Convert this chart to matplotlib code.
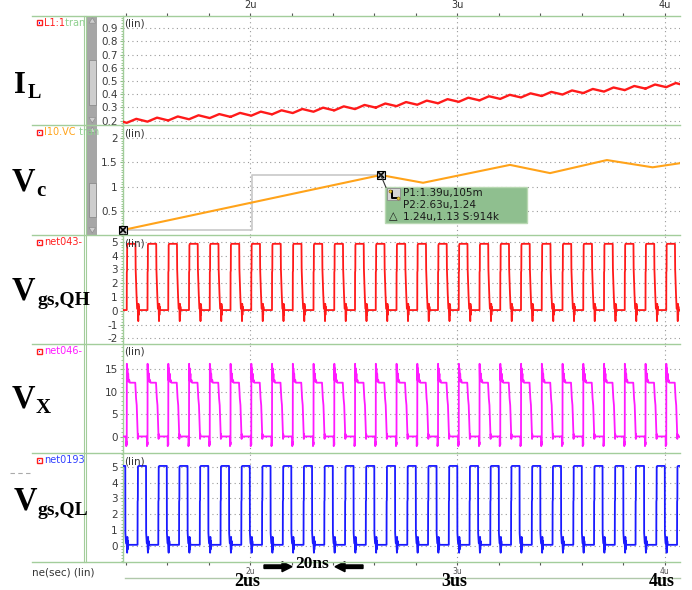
import numpy as np
import matplotlib.pyplot as plt
from matplotlib.patches import Rectangle, Polygon, FancyArrow, ConnectionPatch
from matplotlib.ticker import MultipleLocator, FixedLocator

W, H = 692, 590

# time window in us
t_start, t_stop = 1.3865, 4.0723
period = 0.1
first_rise = 1.406

# inductor current: slow trend (A) and switching ripple within one period
il_knot_t = [1.39, 2.0, 2.5, 3.0, 3.5, 4.08]
il_knot_v = [0.195, 0.25, 0.30, 0.355, 0.41, 0.475]
il_rip_off = [0.0, 0.046, 0.1]
il_rip_val = [-0.013, 0.013, -0.013]

# control voltage corners; first two are the cursor points
vc_t = [1.39, 2.63, 2.834, 3.253, 3.446, 3.72, 3.94, 4.08]
vc_v = [0.105, 1.24, 1.08, 1.45, 1.28, 1.55, 1.40, 1.49]

# one switching period, offsets (us) from high-side turn-on
qh_off = [0.0, 0.0004, 0.0015, 0.002, 0.004, 0.042, 0.043, 0.047, 0.050, 0.054,
          0.0555, 0.0565, 0.0575, 0.0585, 0.060, 0.064, 0.0995]
qh_val = [0.05, 2.8, 2.9, 4.75, 4.85, 4.85, 3.0, 1.2, 0.15, 0.1,
          -0.75, 0.5, -0.3, 0.3, 0.05, 0.05, 0.05]

vx_off = [0.0, 0.0005, 0.002, 0.003, 0.005, 0.007, 0.009, 0.012, 0.015, 0.041, 0.045,
          0.048, 0.051, 0.053, 0.0535, 0.054, 0.056, 0.097, 0.0975, 0.0995]
vx_val = [-1.8, 16.2, 12.5, 15.2, 12.8, 14.0, 12.2, 12.6, 12.0, 12.0, 8.5,
          7.0, 2.5, 0.3, -0.5, 0.6, 0.05, 0.05, -2.1, -1.2]

ql_off = [0.0, 0.002, 0.003, 0.004, 0.005, 0.007, 0.052, 0.0525, 0.0535, 0.054,
          0.057, 0.093, 0.0935, 0.0965, 0.0995]
ql_val = [0.1, -0.45, 0.55, -0.25, 0.3, 0.05, 0.05, 2.8, 2.9, 5.0,
          5.05, 5.05, 0.8, 0.15, 0.1]

y_limits = [(0.167, 0.995), (0.0, 2.275), (-2.41, 5.49), (-3.63, 20.6), (-1.02, 5.87)]
y_ticks = [[0.2, 0.3, 0.4, 0.5, 0.6, 0.7, 0.8, 0.9], [0.5, 1, 1.5, 2],
           [-2, -1, 0, 1, 2, 3, 4, 5], [0, 5, 10, 15], [0, 1, 2, 3, 4, 5]]
y_minor = [0.02, 0.05, 0.2, 1, 0.2]
time_labels = ["2u", "3u", "4u"]

GREEN = "#a3cd9b"
GRID = "#9a9a9a"


def tile(off, val):
    ts, vs = [], []
    for k in range(-1, 28):
        ts.append(first_rise + k * period + np.array(off))
        vs.append(np.array(val))
    return np.concatenate(ts), np.concatenate(vs)


def px_box(x0, y0, x1, y1):
    return [x0 / W, 1 - y1 / H, (x1 - x0) / W, (y1 - y0) / H]


t_il, rip = tile(il_rip_off, il_rip_val)
il = np.interp(t_il, il_knot_t, il_knot_v) + rip
t_qh, qh = tile(qh_off, qh_val)
t_vx, vx = tile(vx_off, vx_val)
t_ql, ql = tile(ql_off, ql_val)

fig = plt.figure(figsize=(W / 100, H / 100), dpi=100)

tops = [15.7, 125, 235, 344, 453]
bots = [125, 235, 344, 453, 561.7]
series = [(t_il, il, "#ff1a1a", 1.7), (vc_t, vc_v, "#ffa31a", 1.5),
          (t_qh, qh, "#ff1a1a", 1.3), (t_vx, vx, "#ff1aff", 1.3),
          (t_ql, ql, "#1a1aff", 1.3)]
axes = []
for i in range(5):
    ax = fig.add_axes(px_box(122.7, tops[i], 680, bots[i]))
    x, y, c, lw = series[i]
    ax.plot(x, y, color=c, lw=lw, zorder=3)
    ax.set_xlim(t_start, t_stop)
    ax.set_ylim(*y_limits[i])
    ax.set_yticks(y_ticks[i])
    ax.set_yticklabels(["%.1f" % v if i == 0 else "%g" % v for v in y_ticks[i]])
    ax.yaxis.set_minor_locator(MultipleLocator(y_minor[i]))
    ax.tick_params(axis="y", which="major", length=2.5, width=0.8, color="#8dbf85",
                   pad=1, labelsize=7.5, labelcolor="#3a3a3a")
    ax.tick_params(axis="y", which="minor", length=1.6, width=0.6, color="#8dbf85")
    ax.set_xticks([2, 3, 4])
    ax.xaxis.set_minor_locator(FixedLocator(np.arange(1.4, 4.01, 0.2)))
    ax.tick_params(axis="x", which="both", bottom=False, labelbottom=False)
    ax.grid(True, axis="both", which="major", color=GRID, lw=0.8, ls=(0, (1, 3)))
    for s in ["top", "right", "bottom"]:
        ax.spines[s].set_visible(False)
    ax.spines["left"].set_color(GREEN)
    ax.spines["left"].set_linewidth(1)
    axes.append(ax)

# time axis above the first panel
ax1 = axes[0]
ax1.tick_params(axis="x", which="both", top=True, labeltop=True, direction="out",
                length=2, width=0.8, color="#555555", pad=2, labelsize=7,
                labelcolor="#333333")
ax1.set_xticklabels(time_labels)

# time axis below the last panel
ax5 = axes[4]
ax5.tick_params(axis="x", which="both", bottom=True, labelbottom=True, direction="out",
                length=2.4, width=0.8, color="#555555", pad=1.5, labelsize=5.5,
                labelcolor="#555555")
ax5.set_xticklabels(time_labels)

# cursor points on the control voltage
ax2 = axes[1]
p1 = (vc_t[0], vc_v[0])
p2 = (vc_t[1], vc_v[1])
mid = (p1[0] + p2[0]) / 2
ax2.plot([p1[0], mid, mid, p2[0]], [p1[1], p1[1], p2[1], p2[1]],
         color="#c8c8c8", lw=1.2, zorder=2)
for p in (p1, p2):
    ax2.plot(*p, marker="s", ms=6, mfc="#d0d0d0", mec="black", mew=0.8, zorder=5,
             clip_on=False)
    ax2.plot(*p, marker="x", ms=5, mec="black", mew=1.2, zorder=6, clip_on=False)

ov = fig.add_axes([0, 0, 1, 1])
ov.set_xlim(0, W)
ov.set_ylim(H, 0)
ov.axis("off")
ov.set_zorder(5)

# frame lines
for y in tops + [bots[-1]]:
    ov.plot([32, 680], [y, y], color=GREEN, lw=1)
ov.plot([125, 680], [578, 578], color="#b0c8aa", lw=1)
for x in (84.3, 86.3):
    ov.plot([x, x], [15.7, 561.7], color=GREEN, lw=0.8)

# scroll bars on the first two panels
for top, bot, th0, th1 in [(15.7, 125, 60, 105), (125, 235, 183, 217)]:
    ov.add_patch(Rectangle((87.3, top), 10, bot - top, fc="#a6a6a6", ec="none"))
    ov.add_patch(Rectangle((88.5, th0), 7.6, th1 - th0, fc="#cdcdcd", ec="#8c8c8c", lw=0.6))
    ov.add_patch(Polygon([(89, top + 7.5), (95.6, top + 7.5), (92.3, top + 2)],
                         fc="#cfcfcf", ec="#909090", lw=0.5))
    ov.add_patch(Polygon([(89, bot - 7.5), (95.6, bot - 7.5), (92.3, bot - 2)],
                         fc="#cfcfcf", ec="#909090", lw=0.5))

# signal names
clip = Rectangle((30, 0), 54, H, transform=ov.transData, fc="none", ec="none")
names = [("L1:1", "#ff2020", " tran", 62.5), ("I10.VC", "#ffa31a", " tran", 75.5),
         ("net043-", "#ff2020", "", 0), ("net046-", "#ff1aff", "", 0),
         ("net0193", "#3040ff", "", 0)]
for (nm, col, extra, ex), top in zip(names, tops):
    yc = top + 7.3
    ov.add_patch(Rectangle((36.8, yc - 2.6), 5, 5, fc="white", ec="#ff2020", lw=1))
    ov.add_patch(Rectangle((38.6, yc - 0.8), 1.5, 1.5, fc="#2030ff", ec="none"))
    t = ov.text(44, yc, nm, color=col, fontsize=7, va="center", ha="left")
    t.set_clip_path(clip)
    if extra:
        t = ov.text(ex, yc, extra, color="#8fd08f", fontsize=7, va="center", ha="left")
        t.set_clip_path(clip)
    ov.text(124, top + 8, "(lin)", color="#333333", fontsize=7.5, va="center", ha="left")

# large node labels
serif = "Liberation Serif"
big = [("I", 14, 93, 22, "L", 28, 98.5, 14.5),
       ("V", 12, 190.7, 23.5, "c", 36, 196, 15),
       ("V", 12, 300, 23.5, "gs,QH", 37, 305, 14),
       ("V", 12, 408, 23.5, "X", 36, 412.7, 15),
       ("V", 14, 510, 23.5, "gs,QL", 37, 515, 14)]
for m, x0, b0, s0, sub, x1, b1, s1 in big:
    ov.text(x0, b0, m, family=serif, weight="bold", fontsize=s0, va="baseline")
    ov.text(x1, b1, sub, family=serif, weight="bold", fontsize=s1, va="baseline")
ov.plot([10, 32], [473, 473], color="#aaaaaa", lw=0.8, ls=(0, (4, 3)))

ov.text(32, 572.7, "ne(sec) (lin)", color="#333333", fontsize=7.5, va="center")
for x, lab in [(247.5, "2us"), (454, "3us"), (661.5, "4us")]:
    ov.text(x, 585.5, lab, family=serif, weight="bold", fontsize=13, ha="center",
            va="baseline")
ov.text(312.5, 568.5, "20ns", family=serif, weight="bold", fontsize=12.5, ha="center",
        va="baseline")
ov.add_patch(FancyArrow(264, 566.7, 28, 0, width=3.5, head_width=10, head_length=10,
                        length_includes_head=True, color="black"))
ov.add_patch(FancyArrow(363, 566.7, -28, 0, width=3.5, head_width=10, head_length=10,
                        length_includes_head=True, color="black"))

# delta readout box
ov.add_patch(Rectangle((385, 186.7), 142, 36.6, fc="#8fbf8f", ec="#b8d8b2", lw=1))
ov.add_patch(Rectangle((386.5, 188.3), 13.5, 12, fc="#d6d6d6", ec="#8a8a8a", lw=0.6))
ov.plot([389.5, 392, 392, 397.5], [190.5, 190.5, 197.5, 197.5], color="black", lw=1.4)
ov.plot([389.5, 397.5], [190.5, 197.5], ls="none", marker="o", ms=2.2,
        mfc="#e8d040", mec="#806000", mew=0.4)
ov.text(402.7, 193.3, "P1:%.2fu,%dm" % (p1[0], round(p1[1] * 1000)), fontsize=7.5,
        color="#1a1a1a", va="center")
ov.text(402.7, 205, "P2:%.2fu,%.2f" % p2, fontsize=7.5, color="#1a1a1a", va="center")
ov.text(393.5, 216.7, "\u25b3", fontsize=8, color="#1a1a1a", va="center", ha="center")
ov.text(402.7, 216.7, "1.24u,1.13 S:914k", fontsize=7.5, color="#1a1a1a", va="center")
fig.add_artist(ConnectionPatch(xyA=p2, coordsA=ax2.transData, xyB=(386, 187.5),
                               coordsB=ov.transData, color="#333333", lw=0.8,
                               zorder=10))

fig.savefig("out.png", dpi=100)
